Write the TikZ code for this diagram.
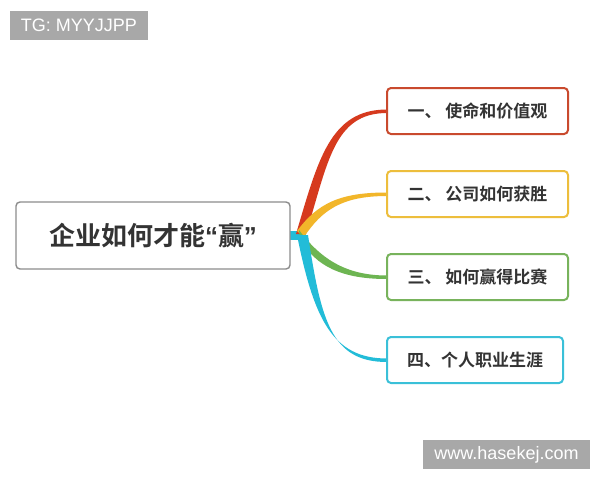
\documentclass[tikz,border=0pt]{standalone}
\usepackage{fontspec}
\setmainfont{Liberation Sans}
\newfontfamily\cjk{Noto Sans CJK SC}
\newfontfamily\cjkbold{Noto Sans CJK SC Bold}
\newfontfamily\quotefont{Liberation Sans Bold}
\definecolor{cred}{HTML}{D63A1E}
\definecolor{cyel}{HTML}{F2B62A}
\definecolor{cgrn}{HTML}{6DB552}
\definecolor{ccyn}{HTML}{22BCD8}
\definecolor{bred}{HTML}{C94A2E}
\definecolor{byel}{HTML}{EDBE3C}
\definecolor{bgrn}{HTML}{78B35C}
\definecolor{bcyn}{HTML}{3AC0D8}
\definecolor{wgray}{HTML}{A8A8A8}
\definecolor{txt}{HTML}{333333}
\begin{document}
\begin{tikzpicture}[x=1pt,y=-1pt,
  topic/.style={draw=gray!90, line width=1.4pt, rounded corners=4pt, fill=white,
    minimum width=274pt, minimum height=67pt, inner sep=0pt, text=txt,
    font=\cjkbold\fontsize{26}{30}\selectfont},
  sub/.style={line width=2pt, rounded corners=4pt, fill=white,
    minimum height=46pt, inner sep=0pt, text=txt,
    font=\cjkbold\fontsize{17}{20}\selectfont},
  wmark/.style={fill=wgray, text=white, inner sep=0pt, font=\fontsize{18}{22}\selectfont}
]
\useasboundingbox (0,0) rectangle (600,480);
\fill[white] (0,0) rectangle (600,480);

% watermarks
\node[wmark, minimum width=138pt, minimum height=29pt] (tg) at (79,25) {TG: MYYJJPP};
\node[wmark, minimum width=167pt, minimum height=29pt] (www) at (506.5,454.5) {www.hasekej.com};

% hub and stub
\coordinate (hub) at (301,233);
\fill[ccyn] (289,230.5) rectangle (306,239.5);

% branches (tapered)
\fill[cred] (296,234) .. controls (318,160) and (330,109.5) .. (387,109.5)
  -- (387,113) .. controls (334,113) and (328,162) .. (306,234) -- cycle;
\fill[cyel] (297,231) .. controls (318,203) and (340,192.5) .. (387,192.5)
  -- (387,196) .. controls (342,196) and (322,210) .. (304,237) -- cycle;
\fill[cgrn] (299,230) .. controls (320,258) and (345,275.5) .. (387,275.5)
  -- (387,279) .. controls (343,279) and (316,267) .. (300,239) -- cycle;
\fill[ccyn] (297,235) .. controls (314,320) and (333,358.5) .. (387,358.5)
  -- (387,362) .. controls (331,362) and (321,320) .. (308,235) -- cycle;

% central topic
\node[topic] (c) at (153,235.5) {企业如何才能{\quotefont“}赢{\quotefont”}};

% sub topics
\node[sub, draw=bred, minimum width=181pt] (s1) at (477.5,111) {一、 使命和价值观};
\node[sub, draw=byel, minimum width=181pt] (s2) at (477.5,194) {二、 公司如何获胜};
\node[sub, draw=bgrn, minimum width=181pt] (s3) at (477.5,277) {三、 如何赢得比赛};
\node[sub, draw=bcyn, minimum width=176pt] (s4) at (475,360) {四、个人职业生涯};
\end{tikzpicture}
\end{document}
